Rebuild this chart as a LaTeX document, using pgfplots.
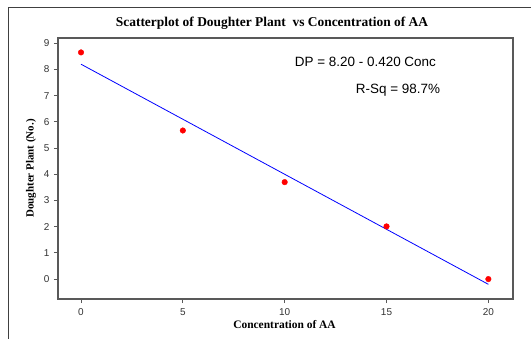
\documentclass[border=0pt]{standalone}
\usepackage{fontspec}
\setmainfont{Liberation Serif}
\newfontfamily\arial{Liberation Sans}
\usepackage{pgfplots}
\pgfplotsset{compat=1.18}
\begin{document}
\begin{tikzpicture}
\useasboundingbox (0bp,0bp) rectangle (531bp,339bp);
\draw[line width=1bp, black!75] (531bp,331bp) -- (8bp,331bp) -- (8bp,0bp);
\begin{axis}[
  at={(58bp,40bp)}, anchor=south west,
  scale only axis, width=455bp, height=261bp,
  xmin=-1.13, xmax=21.21, ymin=-0.76, ymax=9.2,
  axis line style={draw=black!65, line width=1.2bp},
  tick align=outside, xtick pos=bottom, ytick pos=left,
  xtick={0,5,10,15,20}, ytick={0,1,2,3,4,5,6,7,8,9},
  major tick length=4bp,
  tick style={black!65, line width=0.8bp},
  ticklabel style={font=\arial\fontsize{10}{12}\selectfont, text=black!80},
  /pgf/number format/assume math mode=true,
  xticklabel style={yshift=-2bp},
  yticklabel style={xshift=-1bp},
  clip=false]
\addplot[blue, line width=0.8bp] coordinates {(0,8.2) (20,-0.2)};
\addplot[only marks, mark=*, mark size=2.8bp, color=red, mark options={fill=red, draw=red}] coordinates {(0,8.65) (5,5.67) (10,3.70) (15,2.01) (20,0.0)};
\node[anchor=east, font=\arial\fontsize{13.5}{15}\selectfont, inner sep=0pt] at (rel axis cs:0.831,0.908) {DP = 8.20 - 0.420 Conc};
\node[anchor=east, font=\arial\fontsize{13.5}{15}\selectfont, inner sep=0pt] at (rel axis cs:0.84,0.80) {R-Sq = 98.7\%};
\end{axis}
\node[font=\bfseries\fontsize{13.5}{15}\selectfont, inner sep=0pt] at (272bp,316bp) {Scatterplot of Doughter Plant \ vs Concentration of AA};
\node[font=\bfseries\fontsize{11.5}{13}\selectfont, inner sep=0pt] at (284.5bp,14bp) {Concentration of AA};
\node[font=\bfseries\fontsize{11}{13}\selectfont, inner sep=0pt, rotate=90] at (31bp,170.5bp) {Doughter Plant (No.)};
\end{tikzpicture}
\end{document}
